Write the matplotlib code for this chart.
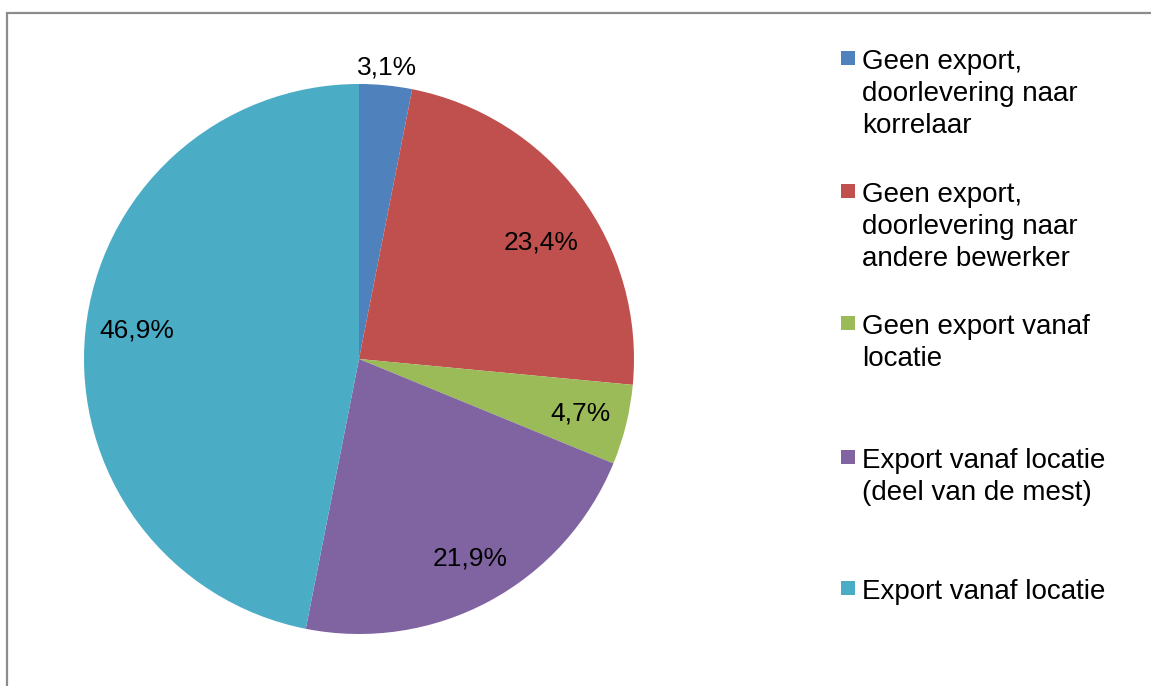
import numpy as np
import matplotlib
matplotlib.use("Agg")
import matplotlib.pyplot as plt
from matplotlib.patches import Rectangle

W, H = 1151, 686

categories = [
    "Geen export,\ndoorlevering naar\nkorrelaar",
    "Geen export,\ndoorlevering naar\nandere bewerker",
    "Geen export vanaf\nlocatie",
    "Export vanaf locatie\n(deel van de mest)",
    "Export vanaf locatie",
]
shares = [3.1, 23.4, 4.7, 21.9, 46.9]
colors = ["#4F81BD", "#C0504D", "#9BBB59", "#8064A2", "#4BACC6"]
# label placement: radial position (fraction of radius) and angular nudge (deg)
label_dist = [1.065, 0.785, 0.83, 0.83, 0.816]
label_turn = [0.0, -4.2, 0.0, 1.0, -1.8]

plt.rcParams["font.family"] = ["Liberation Sans", "DejaVu Sans"]

fig = plt.figure(figsize=(W / 100, H / 100), dpi=100)
fig.patch.set_facecolor("white")


def px(x, y):
    """pixel coordinates (top-left origin) -> figure fraction"""
    return x / W, 1 - y / H


# chart frame (extends past right and bottom edge)
fig.patches.append(Rectangle(px(7.5, 700), (W + 20) / W, (700 - 13) / H,
                             transform=fig.transFigure, fill=False,
                             edgecolor="#8C8C8C", linewidth=1.6))

# pie axes: centre (359, 359), radius 275 px
cx, cy, r = 359, 359, 275
l, b = px(cx - r, cy + r)
ax = fig.add_axes([l, b, 2 * r / W, 2 * r / H])
wedges, _ = ax.pie(shares, colors=colors, startangle=90, counterclock=False,
                   radius=1.0, wedgeprops=dict(linewidth=0))
ax.set_xlim(-1, 1)
ax.set_ylim(-1, 1)
ax.set_aspect("equal")
ax.axis("off")

for w, val, d, turn in zip(wedges, shares, label_dist, label_turn):
    ang = np.deg2rad((w.theta1 + w.theta2) / 2 + turn)
    ax.text(d * np.cos(ang), d * np.sin(ang),
            f"{val:.1f}%".replace(".", ","),
            ha="center", va="center", fontsize=19, color="black")

# legend drawn line by line
first_baselines = [69, 202, 334, 468, 599]
pitch = 32
for lab, col, y0 in zip(categories, colors, first_baselines):
    sx, sy = px(841, y0 - 4)
    fig.patches.append(Rectangle((sx, sy), 14 / W, 14 / H,
                                 transform=fig.transFigure,
                                 facecolor=col, edgecolor="none"))
    for i, line in enumerate(lab.split("\n")):
        tx, ty = px(862.5, y0 + i * pitch)
        fig.text(tx, ty, line, ha="left", va="baseline", fontsize=20,
                 color="black")

fig.savefig("out.png", dpi=100, facecolor="white")
